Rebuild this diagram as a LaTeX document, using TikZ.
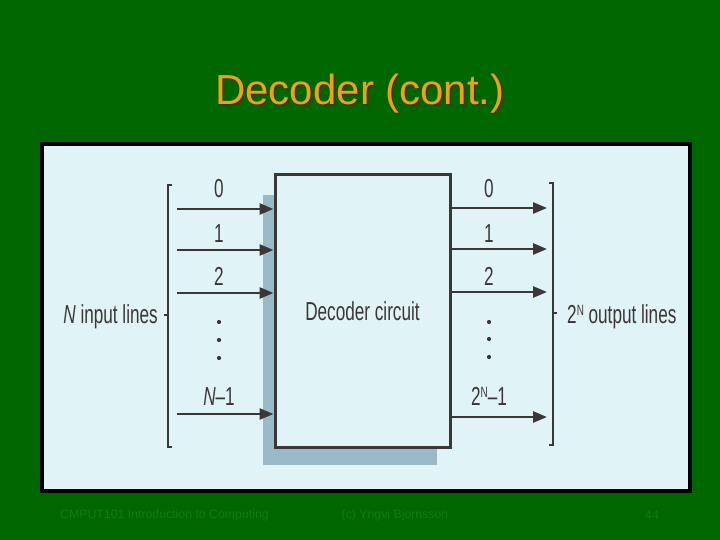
\documentclass[tikz,border=0pt]{standalone}
\usepackage{fontspec}
\setmainfont{Liberation Sans}
\newfontfamily\figfont[FakeStretch=0.66]{Liberation Sans}
\usetikzlibrary{arrows.meta,positioning}
\usepackage{xcolor}
\definecolor{slidegreen}{RGB}{0,102,0}
\definecolor{footgreen}{RGB}{22,122,22}
\definecolor{titleorange}{RGB}{232,162,28}
\definecolor{titleshade}{RGB}{60,60,10}
\definecolor{panelblue}{RGB}{224,243,247}
\definecolor{shadeblue}{RGB}{152,186,201}
\definecolor{inkgray}{RGB}{60,54,54}
\newcommand{\powN}{\raisebox{0.55ex}{\fontsize{15}{15}\selectfont N}}
\newcommand{\shadetitle}[1]{\rlap{\hspace{2pt}\raisebox{-2pt}{\color{titleshade}#1}}#1}

\begin{document}
\begin{tikzpicture}[x=1pt, y=-1pt,
    lbl/.style={font=\figfont\fontsize{26}{28}\selectfont, text=inkgray, inner sep=0pt, anchor=base},
    sig/.style={line width=2.6pt, draw=inkgray, -{Triangle[length=14pt,width=11pt]}},
    foot/.style={font=\fontsize{12.3}{14}\selectfont, text=footgreen, inner sep=0pt}]
    % Slide
    \fill[slidegreen] (0,0) rectangle (720,540);
    \useasboundingbox (0,0) rectangle (720,540);
    \node[font=\fontsize{42}{48}\selectfont, text=titleorange, anchor=base] (title) at (360,105) {\shadetitle{Decoder (cont.)}};
    \draw[line width=4pt, fill=panelblue] (42,144) rectangle (690,491);

    % Decoder box
    \fill[shadeblue] (263,195) rectangle (437,465);
    \node[draw=inkgray, line width=3pt, fill=panelblue, minimum width=175, minimum height=272,
          lbl, anchor=center, inner sep=0pt] (dec) at (362.5,311) {Decoder circuit};

    % Inputs
    \coordinate (in0) at (177,209);
    \coordinate (in1) at (177,250);
    \coordinate (in2) at (177,293);
    \coordinate (inN) at (177,414);
    \draw[sig] (in0) -- (in0 -| dec.west);
    \draw[sig] (in1) -- (in1 -| dec.west);
    \draw[sig] (in2) -- (in2 -| dec.west);
    \draw[sig] (inN) -- (inN -| dec.west);
    \node[lbl] (lin0) at (219,198) {0};
    \node[lbl] (lin1) at (219,243) {1};
    \node[lbl] (lin2) at (219,285) {2};
    \node[lbl] (linN) at (219,405) {\textit{N}\textendash1};
    \foreach \y in {322,340,358} \fill[inkgray] (219,\y) circle (2.1);
    \draw[inkgray, line width=1.2pt] (172,185) -- (168,185) -- (168,447) -- (172,447);
    \draw[inkgray, line width=1.2pt] (168,315) -- (164,315);
    \node[lbl, anchor=base east] (inlines) at (158,323) {\textit{N} input lines};

    % Outputs
    \coordinate (out0) at (547,208);
    \coordinate (out1) at (547,249);
    \coordinate (out2) at (547,292);
    \coordinate (outN) at (547,417);
    \draw[sig] (out0 -| dec.east) -- (out0);
    \draw[sig] (out1 -| dec.east) -- (out1);
    \draw[sig] (out2 -| dec.east) -- (out2);
    \draw[sig] (outN -| dec.east) -- (outN);
    \node[lbl] (lout0) at (489,198) {0};
    \node[lbl] (lout1) at (489,242) {1};
    \node[lbl] (lout2) at (489,285) {2};
    \node[lbl] (loutN) at (489,405) {2\powN\textendash1};
    \foreach \y in {322,339,357} \fill[inkgray] (489,\y) circle (2.1);
    \draw[inkgray, line width=1.2pt] (549,183) -- (553,183) -- (553,445) -- (549,445);
    \draw[inkgray, line width=1.2pt] (553,313) -- (557,313);
    \node[lbl, anchor=base west] (outlines) at (567,323) {2\powN{} output lines};

    % Footer
    \node[foot, anchor=west] (course) at (60,515) {CMPUT101 Introduction to Computing};
    \node[foot] (author) at (395,515) {(c) Yngvi Bjornsson};
    \node[foot] (page) at (652,515) {44};
\end{tikzpicture}
\end{document}
